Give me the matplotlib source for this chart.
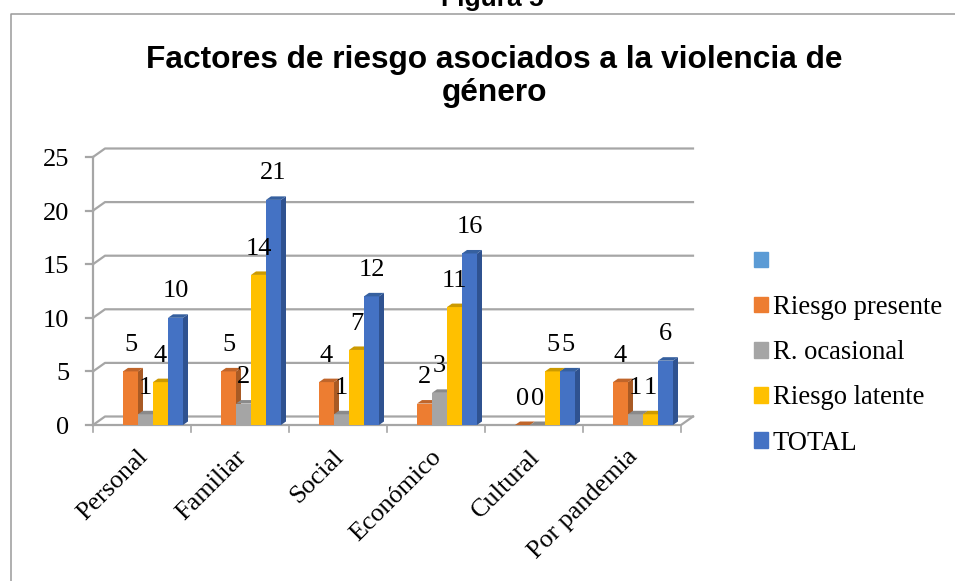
import numpy as np
import matplotlib
matplotlib.use("Agg")
import matplotlib.pyplot as plt
from matplotlib.patches import Polygon, Patch

# data
categories = ["Personal", "Familiar", "Social", "Económico", "Cultural", "Por pandemia"]
riesgo_presente = [5, 5, 4, 2, 0, 4]
r_ocasional = [1, 2, 1, 3, 0, 1]
riesgo_latente = [4, 14, 7, 11, 5, 1]
total = [10, 21, 12, 16, 5, 6]
y_ticks = [0, 5, 10, 15, 20, 25]

series_names = ["", "Riesgo presente", "R. ocasional", "Riesgo latente", "TOTAL"]
series_values = [None, riesgo_presente, r_ocasional, riesgo_latente, total]
colors = ["#5B9BD5", "#ED7D31", "#A5A5A5", "#FFC000", "#4472C4"]
side_colors = [None, "#A85A24", "#757575", "#B58900", "#2F5290"]
top_colors = [None, "#C0652A", "#8A8A8A", "#CC9A00", "#36609F"]

W, H = 955, 581
GRID = "#A6A6A6"
SERIF = "Liberation Serif"
SANS = "Liberation Sans"
FS_NUM = 19
FS_CAT = 18.8
FS_LEG = 19.2

fig = plt.figure(figsize=(W / 100, H / 100), dpi=100)

# front plane of the fake 3d box, in pixels
left, right = 93, 681
bottom, top = 425, 157
ax = fig.add_axes([left / W, 1 - bottom / H, (right - left) / W, (bottom - top) / H])
ax.set_xlim(0, len(categories))
ax.set_ylim(0, 25)
ax.axis("off")

# pixel to data units
px_x = len(categories) / (right - left)
px_y = 25 / (bottom - top)
wall_dx, wall_dy = 12 * px_x, 8.5 * px_y
bar_dx, bar_dy = 5 * px_x, 3.5 * px_y
bar_w = 15 * px_x
tick_len = 7

# walls and gridlines
for v in y_ticks:
    ax.plot([0, wall_dx, len(categories) + wall_dx], [v, v + wall_dy, v + wall_dy],
            color=GRID, lw=1.6, clip_on=False, zorder=1)
    ax.plot([-tick_len * px_x, 0], [v, v], color=GRID, lw=1.6, clip_on=False, zorder=1)
    ax.text(-24 * px_x, v - 3 * px_y, str(v), family=SERIF, fontsize=FS_NUM,
            ha="right", va="center")
ax.plot([0, 0], [0, 25], color=GRID, lw=1.6, clip_on=False, zorder=1)
ax.plot([0, len(categories), len(categories) + wall_dx], [0, 0, wall_dy],
        color=GRID, lw=1.6, clip_on=False, zorder=1)
for i in range(len(categories) + 1):
    ax.plot([i, i], [0, -tick_len * px_y], color=GRID, lw=1.2, clip_on=False, zorder=1)

# bars
x = np.arange(len(categories)) + 0.5 + 3.5 * px_x
for s, vals in enumerate(series_values):
    if vals is None:
        continue
    xs = x + (s - 2) * bar_w
    ax.bar(xs, vals, width=bar_w, color=colors[s], zorder=3 + 0.01 * s, clip_on=False)
    for xi, v in zip(xs, vals):
        r = xi + bar_w / 2
        l = xi - bar_w / 2
        ax.add_patch(Polygon([(r, 0), (r + bar_dx, bar_dy), (r + bar_dx, v + bar_dy), (r, v)],
                             color=side_colors[s], lw=0, zorder=3 + 0.01 * s, clip_on=False))
        ax.add_patch(Polygon([(l, v), (l + bar_dx, v + bar_dy), (r + bar_dx, v + bar_dy), (r, v)],
                             color=top_colors[s], lw=0, zorder=3 + 0.01 * s, clip_on=False))
        ax.annotate(str(v), (xi, v), xytext=(0, 19), textcoords="offset points",
                    family=SERIF, fontsize=FS_NUM, ha="center", va="center", zorder=6)

# category labels
for xi, name in zip(np.arange(len(categories)) + 0.5, categories):
    ax.annotate(name, (xi, 0), xytext=(-4, -15), textcoords="offset points",
                family=SERIF, fontsize=FS_CAT, rotation=45, ha="right", va="top",
                rotation_mode="anchor")

# legend
handles = [Patch(color=c, label=n) for c, n in zip(colors, series_names)]
fig.legend(handles=handles, loc="upper left", bbox_to_anchor=(754 / W, 1 - 250 / H),
           frameon=False, prop={"family": SERIF, "size": FS_LEG}, handlelength=0.52,
           handleheight=0.52, handletextpad=0.19, labelspacing=0.755, borderpad=0, borderaxespad=0)

# chart frame and titles
fig.add_artist(plt.Line2D([10.5 / W, 10.5 / W, 1], [0, 1 - 13.5 / H, 1 - 13.5 / H],
                          transform=fig.transFigure, color="#9A9A9A", lw=1.1))
fig.text(494 / W, 1 - 60 / H, "Factores de riesgo asociados a la violencia de",
         family=SANS, weight="bold", fontsize=22.8, ha="center", va="center")
fig.text(494 / W, 1 - 93 / H, "género", family=SANS, weight="bold", fontsize=22.8,
         ha="center", va="center")
fig.text(492 / W, 1 - 6 / H, "Figura 5", family=SANS, weight="bold", fontsize=19,
         ha="center", va="baseline")

fig.savefig("out.png", dpi=100)
